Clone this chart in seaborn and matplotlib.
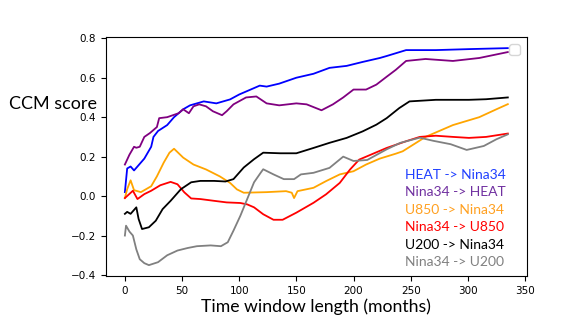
import matplotlib
matplotlib.use('Agg')
import matplotlib.pyplot as plt
import seaborn as sns
import numpy as np

# values (months, CCM score)
heat_nina_x = [0, 2, 5, 8, 11, 17, 19, 23, 25, 29, 37, 43, 51, 57, 69, 80, 92, 100, 106, 118, 124, 135, 150,
               165, 179, 194, 208, 223, 229, 246, 272, 301, 335]
heat_nina_y = [0.02, 0.14, 0.15, 0.13, 0.15, 0.19, 0.21, 0.25, 0.30, 0.33, 0.36, 0.40, 0.44, 0.46, 0.48, 0.47,
               0.49, 0.515, 0.53, 0.56, 0.555, 0.57, 0.60, 0.62, 0.65, 0.66, 0.68, 0.70, 0.71, 0.74, 0.74, 0.745, 0.75]

nina_heat_x = [0, 4, 5, 8, 10, 13, 17, 22, 28, 30, 37, 42, 47, 51, 56, 60, 65, 71, 77, 85, 89, 95, 106, 115,
               124, 135, 150, 159, 172, 182, 191, 200, 211, 220, 229, 237, 246, 263, 287, 310, 335]
nina_heat_y = [0.16, 0.21, 0.22, 0.25, 0.245, 0.25, 0.30, 0.32, 0.35, 0.395, 0.40, 0.41, 0.42, 0.44, 0.42,
               0.455, 0.465, 0.455, 0.43, 0.41, 0.43, 0.465, 0.50, 0.505, 0.47, 0.46, 0.47, 0.465, 0.435, 0.465,
               0.50, 0.54, 0.54, 0.565, 0.605, 0.64, 0.685, 0.695, 0.685, 0.70, 0.73]

u850_nina_x = [0, 2, 5, 8, 14, 23, 28, 34, 39, 43, 51, 60, 71, 83, 92, 98, 104, 124, 141, 146, 148, 151, 165,
               176, 188, 200, 211, 223, 237, 243, 263, 287, 310, 325, 335]
u850_nina_y = [-0.01, 0.035, 0.08, 0.03, 0.02, 0.05, 0.10, 0.17, 0.22, 0.24, 0.195, 0.16, 0.135, 0.10, 0.067,
               0.034, 0.017, 0.02, 0.025, 0.017, -0.01, 0.025, 0.042, 0.076, 0.11, 0.126, 0.16, 0.19, 0.215,
               0.227, 0.30, 0.36, 0.40, 0.44, 0.466]

nina_u850_x = [0, 7, 11, 17, 23, 31, 40, 46, 52, 58, 66, 78, 89, 101, 107, 113, 121, 130, 138, 150, 165, 176,
               188, 197, 205, 229, 246, 258, 272, 287, 301, 316, 335]
nina_u850_y = [-0.01, 0.027, -0.015, 0.01, 0.027, 0.055, 0.072, 0.06, 0.019, -0.012, -0.015, -0.024, -0.032,
               -0.035, -0.042, -0.057, -0.092, -0.12, -0.12, -0.084, -0.034, 0.009, 0.067, 0.135, 0.185, 0.244,
               0.278, 0.30, 0.306, 0.30, 0.295, 0.30, 0.317]

u200_nina_x = [0, 2, 5, 10, 12, 15, 21, 27, 33, 40, 49, 58, 66, 78, 88, 95, 104, 113, 121, 136, 150, 165, 179,
               194, 208, 220, 229, 240, 249, 272, 301, 316, 335]
u200_nina_y = [-0.09, -0.08, -0.09, -0.057, -0.116, -0.167, -0.158, -0.125, -0.066, -0.024, 0.035, 0.07, 0.077,
               0.077, 0.074, 0.086, 0.145, 0.187, 0.22, 0.217, 0.217, 0.244, 0.27, 0.295, 0.328, 0.362, 0.395,
               0.446, 0.48, 0.488, 0.488, 0.491, 0.50]

nina_u200_x = [0, 1, 4, 7, 10, 13, 17, 21, 29, 37, 46, 55, 63, 75, 84, 90, 95, 101, 107, 113, 119, 121, 130,
               139, 148, 154, 165, 179, 191, 200, 212, 229, 241, 258, 270, 285, 299, 314, 325, 335]
nina_u200_y = [-0.20, -0.15, -0.18, -0.20, -0.27, -0.32, -0.34, -0.35, -0.335, -0.30, -0.276, -0.263, -0.254,
               -0.25, -0.254, -0.234, -0.175, -0.10, -0.015, 0.07, 0.12, 0.136, 0.11, 0.086, 0.086, 0.11, 0.118,
               0.143, 0.20, 0.178, 0.183, 0.237, 0.27, 0.296, 0.28, 0.263, 0.234, 0.254, 0.288, 0.313]

labels = ['HEAT -> Nina34', 'Nina34 -> HEAT', 'U850 -> Nina34', 'Nina34 -> U850', 'U200 -> Nina34', 'Nina34 -> U200']
line_colors = ['blue', 'purple', 'orange', 'red', 'black', 'gray']
text_colors = ['#1f3fff', '#7030a0', '#ffa020', '#ff0000', '#000000', '#808080']

series = [(heat_nina_x, heat_nina_y), (nina_heat_x, nina_heat_y), (u850_nina_x, u850_nina_y),
          (nina_u850_x, nina_u850_y), (u200_nina_x, u200_nina_y), (nina_u200_x, nina_u200_y)]

fig = plt.figure(figsize=(5.81, 3.27), dpi=100)
ax = fig.add_axes([0.182, 0.156, 0.725, 0.730])

for (x, y), c in zip(series, line_colors):
    sns.lineplot(x=x, y=y, color=c, linewidth=1.3, ax=ax)

ax.tick_params(labelsize=7.5)
ax.set_xticks([0, 50, 100, 150, 200, 250, 300, 350])
ax.set_xlabel('Time window length (months)', fontsize=12.7, family=['Lato', 'DejaVu Sans'], labelpad=2)
ax.set_ylabel('CCM score', fontsize=13, family=['Lato', 'DejaVu Sans'], rotation=0, ha='right', va='center')
ax.yaxis.set_label_coords(-0.02, 0.72)

# empty legend box, as in the original
ax.legend(handles=[], loc='upper right')

ypos = [0.423, 0.35, 0.277, 0.204, 0.13, 0.057]
for lab, c, yy in zip(labels, text_colors, ypos):
    ax.text(0.71, yy, lab, color=c, fontsize=10, family=['Lato', 'DejaVu Sans'],
            transform=ax.transAxes, va='center', ha='left')

fig.savefig('out.png', dpi=100)
